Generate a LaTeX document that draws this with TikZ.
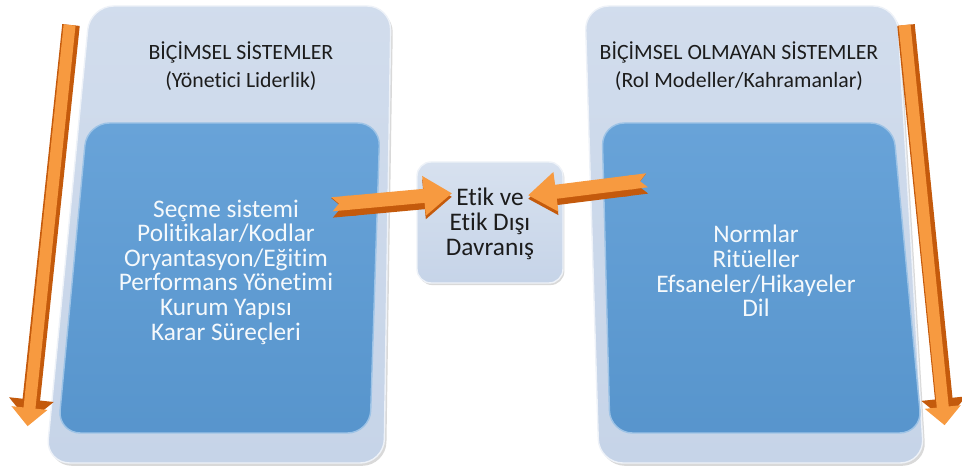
\documentclass[tikz,border=0pt]{standalone}
\usepackage{fontspec}
\setmainfont[Ligatures=NoCommon]{Carlito}
\usetikzlibrary{arrows.meta,positioning,shadows}

\definecolor{panelblue}{HTML}{C6D4E8}
\definecolor{innerblue}{HTML}{5B9BD5}
\definecolor{arroworange}{HTML}{F79A40}
\definecolor{arrowdark}{HTML}{C45A0C}
\definecolor{textdark}{HTML}{1C1C1C}

\tikzset{
  panel/.style={rounded corners=17pt, top color=panelblue!80!white, bottom color=panelblue,
    draw=white!70!panelblue, line width=1pt,
    drop shadow={shadow xshift=1.5pt, shadow yshift=-2pt, opacity=0.3}},
  innerpanel/.style={rounded corners=16pt, top color=innerblue!92!white, bottom color=innerblue!96!black,
    draw=innerblue!60!white, line width=1pt},
  titletext/.style={font=\fontsize{15.5}{20}\selectfont, text=textdark, align=center},
  listtext/.style={font=\fontsize{18}{17.5}\selectfont, text=white!94!innerblue, align=center},
  midtext/.style={font=\fontsize{18}{17.7}\selectfont, text=textdark, align=center},
  vshaft/.style={line width=12.5pt, -{Triangle[width=31pt,length=16pt]}},
  hshaft/.style={line width=14pt, {Triangle Cap[reversed]}-{Triangle[width=27pt,length=20pt]}}
}

\begin{document}
\begin{tikzpicture}[x=0.025cm, y=-0.025cm]
    \useasboundingbox (0,0) rectangle (962,471);

    % Outer panels
    \path[panel] (90,6) -- (391,6) -- (384,463) -- (46,463) -- cycle;
    \path[panel] (585,6) -- (897,6) -- (924,463) -- (599,463) -- cycle;

    % Inner panels
    \path[innerpanel] (87,123) -- (380,123) -- (370,433) -- (58,433) -- cycle;
    \path[innerpanel] (602,123) -- (893,123) -- (922,433) -- (610,433) -- cycle;

    % Center box
    \node[draw=white!70!panelblue, line width=1pt, rounded corners=10pt,
          top color=panelblue!70!white, bottom color=panelblue,
          drop shadow={shadow xshift=1pt, shadow yshift=-1.5pt, opacity=0.3},
          minimum width=146*0.025cm, minimum height=121*0.025cm] (mid) at (490,222.5) {};
    \node[midtext] (midtxt) at (490,224) {Etik ve\\Etik Dışı\\Davranış};

    % Titles
    \node[titletext] (ltitle) at (241,66) {BİÇİMSEL SİSTEMLER\\(Yönetici Liderlik)};
    \node[titletext] (rtitle) at (739,66) {BİÇİMSEL OLMAYAN SİSTEMLER\\(Rol Modeller/Kahramanlar)};

    % Lists
    \node[listtext] (llist) at (226,272) {Seçme sistemi\\Politikalar/Kodlar\\Oryantasyon/Eğitim\\Performans Yönetimi\\Kurum Yapısı\\Karar Süreçleri};
    \node[listtext] (rlist) at (756,271) {Normlar\\Ritüeller\\Efsaneler/Hikayeler\\Dil};

    % Vertical arrows
    \coordinate (latop) at (71,25);
    \coordinate (latip) at (29,422);
    \coordinate (ratop) at (906,25);
    \coordinate (ratip) at (946,421);
    \draw[vshaft, arrowdark] (latop) -- (latip);
    \draw[vshaft, arroworange, line width=8.5pt, -{Triangle[width=25pt,length=13pt]}] ([xshift=-1pt]latop) -- ([xshift=-1pt,yshift=-3pt]latip);
    \draw[vshaft, arrowdark] (ratop) -- (ratip);
    \draw[vshaft, arroworange, line width=8.5pt, -{Triangle[width=25pt,length=13pt]}] ([xshift=-1pt]ratop) -- ([xshift=-1pt,yshift=-3pt]ratip);

    % Horizontal arrows
    \coordinate (lhtail) at (332,205);
    \coordinate (lhtip) at (452,194);
    \coordinate (rhtail) at (647,181);
    \coordinate (rhtip) at (528,196);
    \draw[hshaft, arrowdark] ([yshift=-2pt]lhtail) -- ([yshift=-2pt]lhtip);
    \draw[hshaft, arroworange, line width=10pt] ([yshift=0.5pt]lhtail) -- ([yshift=0.5pt]lhtip);
    \draw[hshaft, arrowdark] ([yshift=-2pt]rhtail) -- ([yshift=-2pt]rhtip);
    \draw[hshaft, arroworange, line width=10pt] ([yshift=0.5pt]rhtail) -- ([yshift=0.5pt]rhtip);
\end{tikzpicture}
\end{document}
